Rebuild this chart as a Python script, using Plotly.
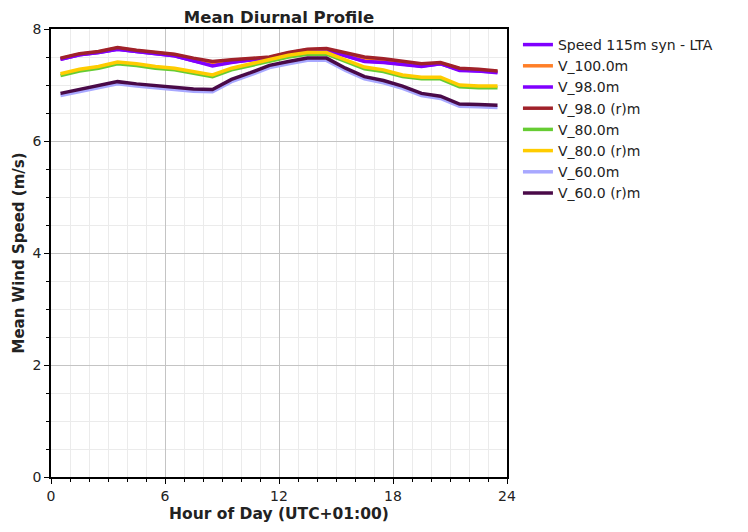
import plotly.graph_objects as go

hours = [0.5, 1.5, 2.5, 3.5, 4.5, 5.5, 6.5, 7.5, 8.5, 9.5, 10.5, 11.5,
         12.5, 13.5, 14.5, 15.5, 16.5, 17.5, 18.5, 19.5, 20.5, 21.5, 22.5, 23.5]

# Series hidden beneath the 98 m lines in the reference
speed_115_lta = [7.46, 7.54, 7.58, 7.64, 7.60, 7.56, 7.52, 7.43, 7.36, 7.41, 7.45, 7.48,
                 7.56, 7.62, 7.62, 7.53, 7.43, 7.41, 7.37, 7.34, 7.38, 7.27, 7.25, 7.23]
v_100 = [7.47, 7.55, 7.59, 7.66, 7.61, 7.57, 7.54, 7.46, 7.40, 7.44, 7.47, 7.49,
         7.57, 7.63, 7.64, 7.56, 7.48, 7.45, 7.40, 7.36, 7.39, 7.29, 7.27, 7.24]
v_98 = [7.46, 7.54, 7.58, 7.64, 7.60, 7.56, 7.52, 7.43, 7.34, 7.40, 7.45, 7.48,
        7.56, 7.62, 7.62, 7.52, 7.42, 7.40, 7.37, 7.33, 7.38, 7.26, 7.25, 7.22]
v_98_r = [7.48, 7.56, 7.60, 7.67, 7.62, 7.58, 7.55, 7.48, 7.42, 7.45, 7.48, 7.50,
          7.58, 7.64, 7.65, 7.58, 7.50, 7.47, 7.42, 7.38, 7.40, 7.30, 7.28, 7.25]
v_80 = [7.17, 7.25, 7.30, 7.38, 7.35, 7.30, 7.27, 7.21, 7.15, 7.27, 7.35, 7.42,
        7.50, 7.55, 7.55, 7.42, 7.29, 7.24, 7.15, 7.11, 7.11, 6.97, 6.95, 6.95]
v_80_r = [7.20, 7.28, 7.33, 7.41, 7.38, 7.33, 7.30, 7.24, 7.18, 7.30, 7.38, 7.45,
          7.53, 7.58, 7.58, 7.45, 7.32, 7.27, 7.18, 7.14, 7.14, 7.00, 6.98, 6.98]
v_60 = [6.81, 6.88, 6.94, 7.02, 6.98, 6.95, 6.93, 6.89, 6.88, 7.06, 7.18, 7.31,
        7.38, 7.44, 7.44, 7.26, 7.11, 7.04, 6.94, 6.81, 6.76, 6.62, 6.61, 6.60]
v_60_r = [6.85, 6.92, 6.98, 7.06, 7.02, 6.99, 6.97, 6.93, 6.92, 7.10, 7.22, 7.35,
          7.42, 7.48, 7.48, 7.30, 7.15, 7.08, 6.98, 6.85, 6.80, 6.66, 6.65, 6.64]

series = [
    ("Speed 115m syn - LTA", speed_115_lta, "#7F00FF"),
    ("V_100.0m", v_100, "#FF7F27"),
    ("V_98.0m", v_98, "#8000FF"),
    ("V_98.0 (r)m", v_98_r, "#A0222A"),
    ("V_80.0m", v_80, "#66CC33"),
    ("V_80.0 (r)m", v_80_r, "#FFCC00"),
    ("V_60.0m", v_60, "#A8A8FF"),
    ("V_60.0 (r)m", v_60_r, "#4A0A48"),
]

fig = go.Figure()
for name, vals, color in series:
    fig.add_trace(go.Scatter(
        x=hours, y=vals, name=name, mode="lines",
        line=dict(color=color, width=3.5),
    ))

FONT = "DejaVu Sans"
axis_common = dict(
    showline=True, linecolor="black", linewidth=1.5, mirror=True,
    ticks="outside", ticklen=5, tickcolor="black",
    showgrid=True, gridcolor="#c4c4c4", gridwidth=1,
    zeroline=False, automargin=False,
    tickfont=dict(family=FONT, size=14, color="#222"),
)

fig.update_xaxes(
    range=[0, 24], tickmode="array", tickvals=[0, 6, 12, 18, 24],
    minor=dict(dtick=1, showgrid=True, gridcolor="#ebebeb", ticks="outside",
               ticklen=3, tickcolor="black"),
    title=dict(text="<b>Hour of Day (UTC+01:00)</b>", standoff=6,
               font=dict(family=FONT, size=15.5, color="#222")),
    **axis_common,
)
fig.update_yaxes(
    range=[0, 8], tickmode="array", tickvals=[0, 2, 4, 6, 8],
    minor=dict(dtick=0.5, showgrid=True, gridcolor="#ebebeb", ticks="outside",
               ticklen=3, tickcolor="black"),
    title=dict(text="<b>Mean Wind Speed (m/s)</b>", standoff=4,
               font=dict(family=FONT, size=15, color="#222")),
    **axis_common,
)

W, H = 740, 524
fig.update_layout(
    width=W, height=H,
    margin=dict(l=43, r=241, t=21, b=55, autoexpand=False),
    paper_bgcolor="white", plot_bgcolor="white",
    title=dict(text="<b>Mean Diurnal Profile</b>", x=(43 + 499) / 2 / W,
               xanchor="center", y=1 - 9 / H, yanchor="middle",
               font=dict(family=FONT, size=16.5, color="#222")),
    legend=dict(x=1.024, xanchor="left", y=1.0, yanchor="top",
                font=dict(family=FONT, size=14, color="#222"),
                tracegroupgap=0, itemwidth=30, bgcolor="rgba(0,0,0,0)"),
    showlegend=True,
)

fig.write_html("out.html")
